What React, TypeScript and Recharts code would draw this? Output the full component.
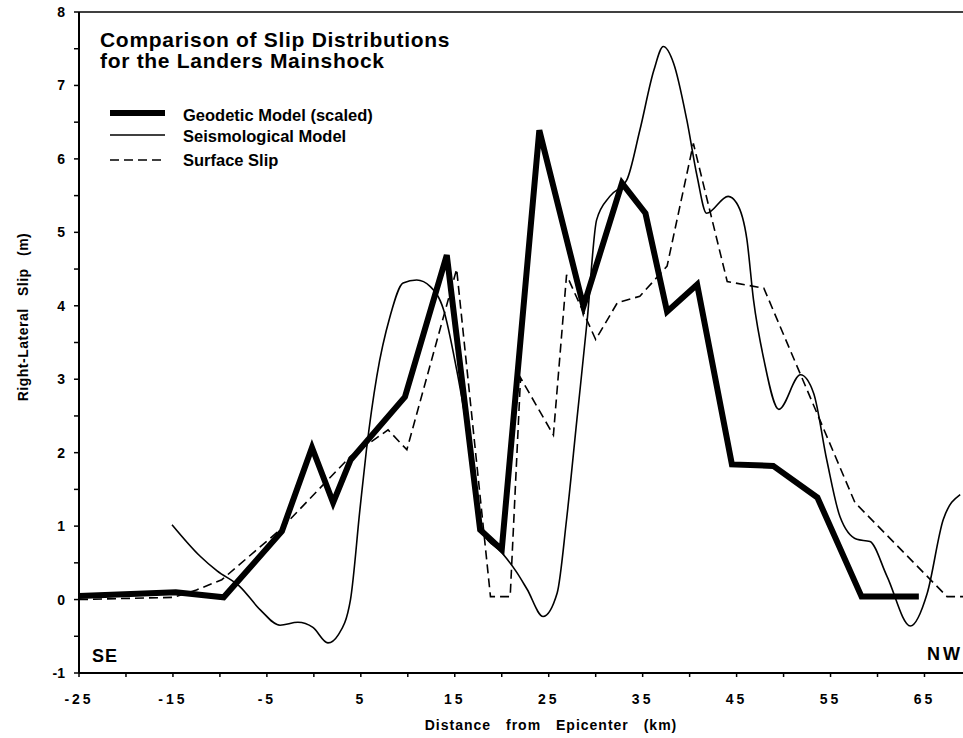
import React from "react";
import { LineChart, Line, XAxis, YAxis, ReferenceLine } from "recharts";

// Geodetic model (scaled), thick line
const geodeticKm = [-25, -14.7, -9.6, -3.4, -0.2, 2.05, 3.9, 9.7, 14.15, 17.7, 20.0, 24.0, 28.7, 32.8, 35.3, 37.6, 40.8, 44.5, 48.9, 53.6, 58.3, 64.4];
const geodeticSlip = [0.05, 0.1, 0.03, 0.93, 2.07, 1.32, 1.9, 2.76, 4.69, 0.95, 0.68, 6.39, 3.99, 5.67, 5.26, 3.92, 4.29, 1.84, 1.82, 1.39, 0.04, 0.04];

// Seismological model, thin smooth line
const seismoKm = [-15.1, -12.1, -10.3, -7.9, -5.7, -3.6, -1.7, -0.1, 1.5, 2.6, 3.9, 4.9, 5.6, 6.7, 8.1, 9.5, 10.95, 12.4, 13.8, 15.2, 17.0, 18.0, 20.0, 21.6, 22.7, 24.4, 25.9, 26.9, 28.0, 29.1, 30.1, 31.5, 33.3, 34.7, 36.2, 37.2, 38.3, 39.7, 40.8, 41.8, 44.1, 45.0, 46.1, 46.8, 47.9, 49.5, 51.8, 53.2, 54.6, 56.0, 57.8, 59.2, 61.0, 63.5, 65.3, 67.0, 68.8];
const seismoSlip = [1.02, 0.59, 0.39, 0.18, -0.14, -0.35, -0.31, -0.38, -0.59, -0.48, 0.0, 1.22, 2.04, 3.04, 3.85, 4.31, 4.35, 4.26, 3.95, 3.13, 1.77, 0.91, 0.64, 0.37, 0.14, -0.23, 0.09, 1.09, 2.45, 3.81, 5.17, 5.49, 5.71, 6.39, 7.21, 7.53, 7.3, 6.53, 5.76, 5.26, 5.49, 5.4, 4.9, 4.08, 3.27, 2.59, 3.06, 2.81, 1.9, 1.13, 0.82, 0.79, 0.32, -0.36, 0.09, 1.09, 1.43];

// Surface slip, dashed
const surfaceKm = [-25, -15, -12.5, -9.8, -3.6, 3.9, 7.9, 9.9, 15.2, 18.8, 20.9, 22.0, 25.5, 26.9, 30.0, 32.3, 34.7, 37.6, 40.4, 44.0, 47.9, 57.6, 67.4, 69.1];
const surfaceSlip = [0.0, 0.03, 0.13, 0.27, 0.95, 1.95, 2.31, 2.04, 4.5, 0.04, 0.04, 3.02, 2.24, 4.42, 3.54, 4.04, 4.13, 4.54, 6.21, 4.33, 4.24, 1.32, 0.04, 0.04];

const xTicks = [-25, -20, -15, -10, -5, 0, 5, 10, 15, 20, 25, 30, 35, 40, 45, 50, 55, 60, 65];
const yTicks = [-1, -0.5, 0, 0.5, 1, 1.5, 2, 2.5, 3, 3.5, 4, 4.5, 5, 5.5, 6, 6.5, 7, 7.5, 8];

const zip = (xs: number[], ys: number[]) => xs.map((x, i) => ({ x, y: ys[i] }));

const geodetic = zip(geodeticKm, geodeticSlip);
const seismo = zip(seismoKm, seismoSlip);
const surface = zip(surfaceKm, surfaceSlip);

const FONT = "'Liberation Sans', Arial, sans-serif";
const tickStyle = { fill: "#000", fontSize: 14, fontWeight: 700, fontFamily: FONT };

export default function App() {
  return (
    <>
      <style>{`body { margin: 0; overflow: hidden; }`}</style>
      <LineChart
        width={963}
        height={738}
        margin={{ top: 12, right: 0, bottom: 0, left: 39 }}
        style={{ fontFamily: FONT }}
      >
        <XAxis
          type="number"
          dataKey="x"
          domain={[-25, 69.1]}
          allowDataOverflow
          ticks={xTicks}
          interval={0}
          tickFormatter={(v: number) => ((v + 25) % 10 === 0 ? String(v) : "")}
          tick={{ ...tickStyle, letterSpacing: 3 }}
          tickSize={4}
          tickMargin={17}
          height={65}
          axisLine={{ stroke: "#000", strokeWidth: 2 }}
          tickLine={{ stroke: "#000", strokeWidth: 1.5 }}
        />
        <YAxis
          type="number"
          domain={[-1, 8]}
          ticks={yTicks}
          interval={0}
          tickFormatter={(v: number) => (Number.isInteger(v) ? String(v) : "")}
          tick={tickStyle}
          tickSize={5}
          tickMargin={9}
          width={40}
          axisLine={{ stroke: "#000", strokeWidth: 2 }}
          tickLine={{ stroke: "#000", strokeWidth: 1.5 }}
        />
        <ReferenceLine y={8} stroke="#000" strokeWidth={1.5} />
        <Line
          data={surface}
          dataKey="y"
          type="linear"
          stroke="#000"
          strokeWidth={1.6}
          strokeDasharray="9 5"
          dot={false}
          isAnimationActive={false}
        />
        <Line
          data={seismo}
          dataKey="y"
          type="monotone"
          stroke="#000"
          strokeWidth={1.6}
          dot={false}
          isAnimationActive={false}
        />
        <Line
          data={geodetic}
          dataKey="y"
          type="linear"
          stroke="#000"
          strokeWidth={6}
          strokeLinejoin="miter"
          dot={false}
          isAnimationActive={false}
        />

        <g fontFamily={FONT} fontWeight={700} fill="#000">
          <text x={100} y={47} fontSize={21} letterSpacing={0.7}>Comparison of Slip Distributions</text>
          <text x={100} y={68} fontSize={21} letterSpacing={0.7}>for the Landers Mainshock</text>

          <line x1={110} x2={165} y1={113} y2={113} stroke="#000" strokeWidth={6} />
          <text x={183} y={121} fontSize={16.5}>Geodetic Model (scaled)</text>
          <line x1={110} x2={165} y1={135} y2={135} stroke="#000" strokeWidth={1.6} />
          <text x={183} y={142} fontSize={16.5}>Seismological Model</text>
          <line x1={110} x2={165} y1={160} y2={160} stroke="#000" strokeWidth={1.6} strokeDasharray="9 5" />
          <text x={183} y={166} fontSize={16.5}>Surface Slip</text>

          <text x={92} y={662} fontSize={18} letterSpacing={1}>SE</text>
          <text x={927} y={660} fontSize={18} letterSpacing={3}>NW</text>

          <text x={551} y={730} fontSize={14} textAnchor="middle" wordSpacing={10} letterSpacing={1}>
            Distance from Epicenter (km)
          </text>
          <text
            x={28}
            y={317}
            fontSize={14}
            textAnchor="middle"
            wordSpacing={8}
            letterSpacing={0.5}
            transform="rotate(-90, 28, 317)"
          >
            Right-Lateral Slip (m)
          </text>
        </g>
      </LineChart>
    </>
  );
}
